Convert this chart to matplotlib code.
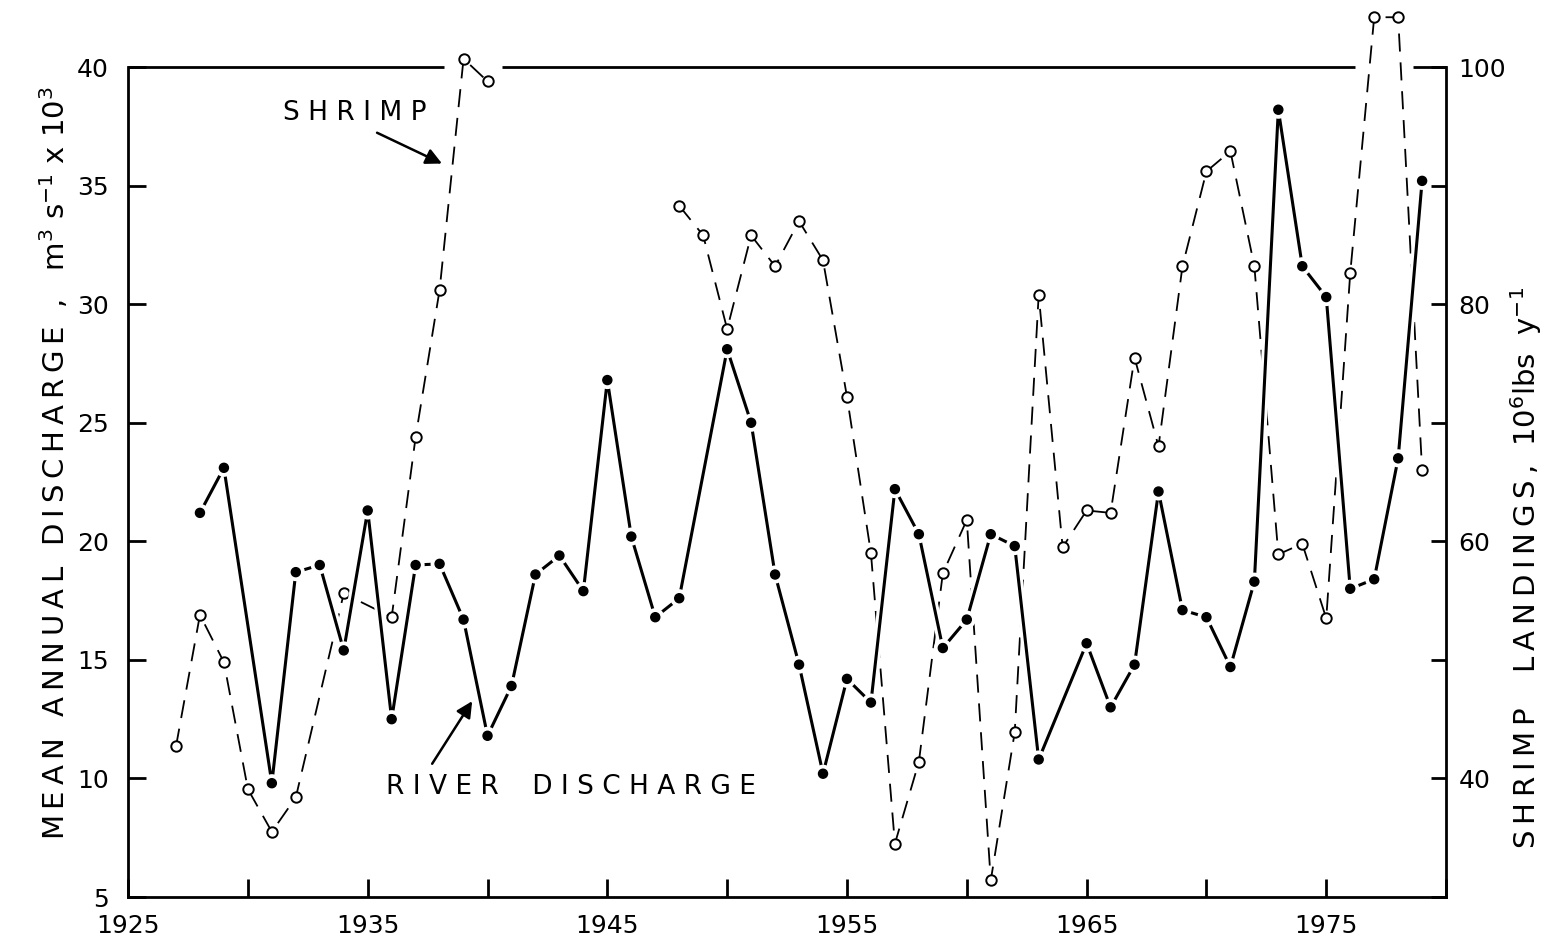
# River discharge vs shrimp landings, 1925-1980

import numpy as np
import matplotlib
matplotlib.use("Agg")
import matplotlib.pyplot as plt
import matplotlib.patheffects as pe

# data
discharge_years = [1928, 1929, 1931, 1932, 1933, 1934, 1935, 1936, 1937, 1938,
                   1939, 1940, 1941, 1942, 1943, 1944, 1945, 1946, 1947, 1948,
                   1950, 1951, 1952, 1953, 1954, 1955, 1956, 1957, 1958, 1959,
                   1960, 1961, 1962, 1963, 1965, 1966, 1967, 1968, 1969, 1970,
                   1971, 1972, 1973, 1974, 1975, 1976, 1977, 1978, 1979]
discharge = [21.2, 23.1, 9.8, 18.7, 19.0, 15.4, 21.3, 12.5, 19.0, 19.05,
             16.7, 11.8, 13.9, 18.6, 19.4, 17.9, 26.8, 20.2, 16.8, 17.6,
             28.1, 25.0, 18.6, 14.8, 10.2, 14.2, 13.2, 22.2, 20.3, 15.5,
             16.7, 20.3, 19.8, 10.8, 15.7, 13.0, 14.8, 22.1, 17.1, 16.8,
             14.7, 18.3, 38.2, 31.6, 30.3, 18.0, 18.4, 23.5, 35.2]

# None = no landings reported (break in the dashed line)
shrimp_years = [1927, 1928, 1929, 1930, 1931, 1932, 1934, 1936, 1937, 1938,
                1939, 1940, 1941, 1948, 1949, 1950, 1951, 1952, 1953, 1954,
                1955, 1956, 1957, 1958, 1959, 1960, 1961, 1962, 1963, 1964,
                1965, 1966, 1967, 1968, 1969, 1970, 1971, 1972, 1973, 1974,
                1975, 1976, 1977, 1978, 1979]
shrimp = [42.7, 53.8, 49.8, 39.1, 35.5, 38.4, 55.6, 53.6, 68.8, 81.2,
          100.7, 98.8, None, 88.3, 85.8, 77.9, 85.8, 83.2, 87.0, 83.7,
          72.2, 59.0, 34.5, 41.4, 57.3, 61.8, 31.4, 43.9, 80.8, 59.5,
          62.6, 62.4, 75.5, 68.0, 83.2, 91.2, 92.9, 83.2, 58.9, 59.8,
          53.5, 82.6, 104.2, 104.2, 66.0]

x_ticks = list(range(1925, 1981, 5))
x_labels = [str(y) if (y - 1925) % 10 == 0 and y < 1980 else "" for y in x_ticks]
left_ticks = list(range(5, 41, 5))
right_ticks = list(range(30, 101, 10))
right_labels = [str(t) if t % 20 == 0 else "" for t in right_ticks]


def spaced(s):
    # wide lettering like the original stencil text
    return "\u2009".join(s)


fig = plt.figure(figsize=(15.41, 9.39), dpi=100)
ax = fig.add_axes([0.0831, 0.0447, 0.8553, 0.8839])
ax2 = ax.twinx()
ax.set_zorder(2)
ax2.set_zorder(1)
ax.patch.set_visible(False)

lw_spine = 2.0

# shrimp landings: dashed line, open circles (right axis)
sy = np.array(shrimp, dtype=float)
ax2.plot(shrimp_years, sy, color="black", lw=1.3, linestyle=(0, (10, 6)),
         marker="o", markersize=7.5, markerfacecolor="white",
         markeredgecolor="black", markeredgewidth=1.4, clip_on=False)

# river discharge: solid line, filled dots (left axis)
ax.plot(discharge_years, discharge, color="black", lw=2.2, marker="o",
        markersize=6.5, markerfacecolor="black",
        path_effects=[pe.Stroke(linewidth=6.5, foreground="white"), pe.Normal()])

ax.set_xlim(1925, 1980)
ax.set_ylim(5, 40)
ax2.set_ylim(30, 100)

ax.set_xticks(x_ticks)
ax.set_xticklabels(x_labels)
ax.set_yticks(left_ticks)
ax2.set_yticks(right_ticks)
ax2.set_yticklabels(right_labels)

ax.tick_params(axis="x", direction="in", length=13, width=lw_spine,
               labelsize=18, pad=12)
ax.tick_params(axis="y", direction="in", length=13, width=lw_spine,
               labelsize=18, pad=14)
ax2.tick_params(axis="y", direction="in", length=11, width=lw_spine,
                labelsize=18, pad=9)

for side in ["top", "right"]:
    ax.spines[side].set_visible(False)
for side in ["top", "left", "bottom"]:
    ax2.spines[side].set_visible(False)
for side in ["left", "bottom"]:
    ax.spines[side].set_linewidth(lw_spine)
ax2.spines["right"].set_linewidth(lw_spine)

# top border, broken where the shrimp line runs over it
high = [y for y, s in zip(shrimp_years, shrimp) if s is not None and s >= 98]
gaps = []
for y in high:
    if gaps and y - gaps[-1][1] == 1:
        gaps[-1][1] = y
    else:
        gaps.append([y, y])
start = 1925
for g0, g1 in gaps:
    ax.plot([start, g0 - 0.8], [40, 40], color="black", lw=lw_spine,
            solid_capstyle="butt", clip_on=False)
    start = g1 + 0.6
ax.plot([start, 1980], [40, 40], color="black", lw=lw_spine,
        solid_capstyle="butt", clip_on=False)

# labels inside the plot
arrow = dict(arrowstyle="-|>", color="black", lw=1.8, mutation_scale=24,
             shrinkA=0, shrinkB=0)
ax.text(1934.47, 38.07, "S H R I M P", fontsize=19, ha="center", va="center")
ax.annotate("", xy=(1938.1, 35.93), xytext=(1935.39, 37.23), arrowprops=arrow)
ax.text(1943.49, 9.66, "R I V E R    D I S C H A R G E",
        fontsize=19, ha="center", va="center")
ax.annotate("", xy=(1939.36, 13.26), xytext=(1937.69, 10.62), arrowprops=arrow)

# axis titles
left_title = spaced("MEAN ANNUAL DISCHARGE") + "  ,   " + r"m$^3$ s$^{-1}$ x 10$^3$"
fig.text(0.0425, 0.507, left_title, rotation=90, rotation_mode="anchor",
         ha="center", va="baseline", fontsize=21)
right_title = spaced("SHRIMP  LANDINGS,") + "  " + r"10$^6$lbs  y$^{-1}$"
fig.text(0.9965, 0.395, right_title, rotation=90, rotation_mode="anchor",
         ha="center", va="baseline", fontsize=21)

plt.savefig("out.png", dpi=100)
